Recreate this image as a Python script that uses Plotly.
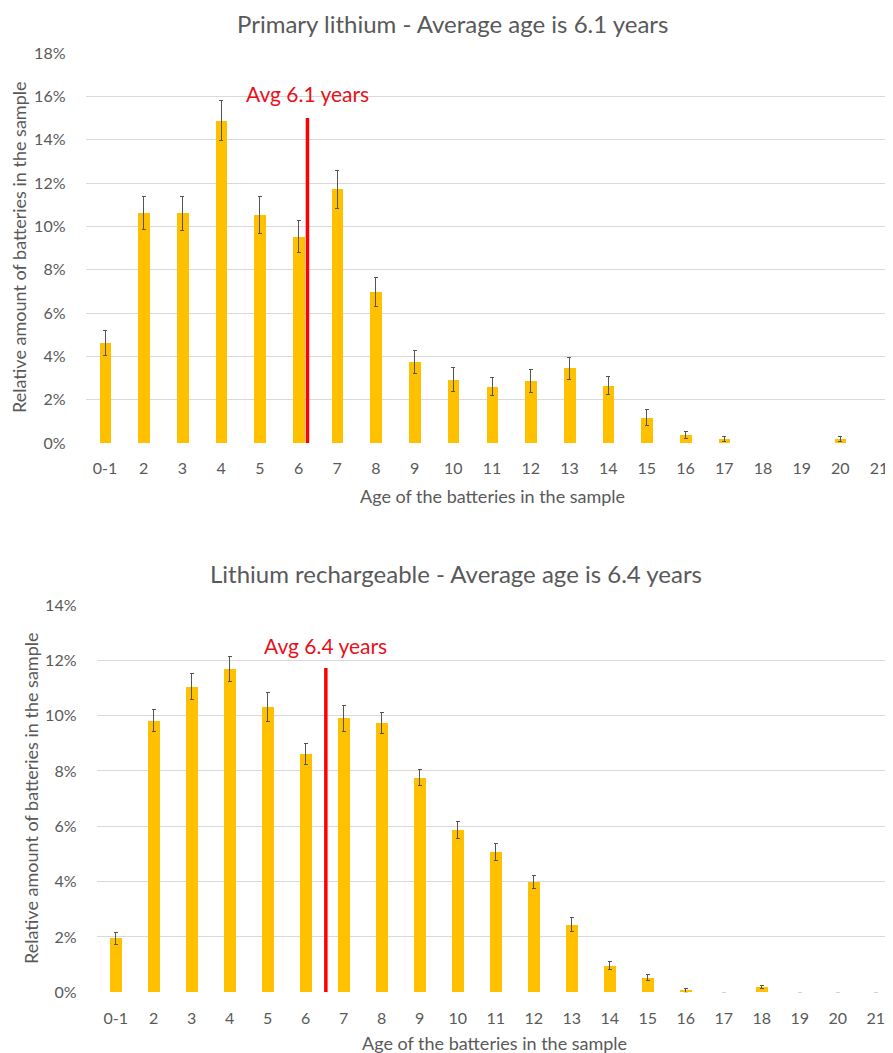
import plotly.graph_objects as go

# Categories (age of batteries)
ages = ['0-1'] + [str(i) for i in range(2, 22)]

# Primary lithium - relative amount (%) and error (+/- %)
primary_vals = [4.63, 10.6, 10.6, 14.87, 10.52, 9.51, 11.72, 6.97, 3.73, 2.93, 2.59,
                2.86, 3.44, 2.64, 1.17, 0.36, 0.18, 0, 0, 0.18, 0]
primary_err = [0.58, 0.76, 0.8, 0.92, 0.86, 0.74, 0.88, 0.67, 0.53, 0.54, 0.42,
               0.55, 0.5, 0.42, 0.36, 0.16, 0.12, 0, 0, 0.12, 0]

# Lithium rechargeable - relative amount (%) and error (+/- %)
recharge_vals = [1.95, 9.81, 11.05, 11.68, 10.31, 8.6, 9.9, 9.72, 7.75, 5.87, 5.06,
                 3.98, 2.44, 0.96, 0.53, 0.08, 0, 0.18, 0, 0, 0]
recharge_err = [0.21, 0.4, 0.47, 0.45, 0.52, 0.38, 0.47, 0.38, 0.29, 0.32, 0.31,
                0.24, 0.26, 0.15, 0.12, 0.07, 0, 0.06, 0, 0, 0]

# Average markers: position on the category axis (index units) and line height (%)
primary_avg = {'label': 'Avg 6.1 years', 'pos': 5.23, 'top': 15.0}
recharge_avg = {'label': 'Avg 6.4 years', 'pos': 5.53, 'top': 11.72}

titles = ['Primary lithium - Average age is 6.1 years',
          'Lithium rechargeable - Average age is 6.4 years']

# page body has an 8px margin, so the figure is made smaller and offset
OFF = 8
W, H = 893 - OFF, 1053 - OFF
FONT = 'Lato'
GREY = '#595959'
BAR = '#FFC000'
RED = '#FF0000'


def py(px_y):
    # screen pixel row -> paper fraction
    return 1 - (px_y - OFF) / H


def px_x(px):
    return (px - OFF) / W


fig = go.Figure()

fig.add_trace(go.Bar(
    x=ages, y=primary_vals, width=0.3, marker_color=BAR, marker_line_width=0,
    error_y=dict(type='data', array=primary_err, color='#555555', thickness=1, width=2),
    xaxis='x', yaxis='y', showlegend=False
))
fig.add_trace(go.Bar(
    x=ages, y=recharge_vals, width=0.3, marker_color=BAR, marker_line_width=0,
    error_y=dict(type='data', array=recharge_err, color='#555555', thickness=1, width=2),
    xaxis='x2', yaxis='y2', showlegend=False
))

axis_common = dict(showline=False, zeroline=False, automargin=False,
                   tickfont=dict(family=FONT, size=16, color=GREY))

fig.update_layout(
    width=W, height=H,
    margin=dict(l=0, r=0, t=0, b=0, pad=0),
    plot_bgcolor='white', paper_bgcolor='white',
    bargap=0,
    xaxis=dict(domain=[px_x(85.7), 1], range=[-0.5, 20.36], type='category',
               showgrid=False, ticks='outside', ticklen=11, tickcolor='rgba(0,0,0,0)',
               anchor='y', **axis_common),
    yaxis=dict(domain=[py(443), py(53)], range=[0, 18], dtick=2, ticksuffix='%',
               showgrid=True, gridcolor='#D9D9D9', gridwidth=1,
               ticks='outside', ticklen=16, tickcolor='rgba(0,0,0,0)',
               anchor='x', **axis_common),
    xaxis2=dict(domain=[px_x(96.7), 1], range=[-0.5, 20.455], type='category',
                showgrid=False, ticks='outside', ticklen=11, tickcolor='rgba(0,0,0,0)',
                anchor='y2', **axis_common),
    yaxis2=dict(domain=[py(992.3), py(605)], range=[0, 14], dtick=2, ticksuffix='%',
                showgrid=True, gridcolor='#D9D9D9', gridwidth=1,
                ticks='outside', ticklen=16, tickcolor='rgba(0,0,0,0)',
                anchor='x2', **axis_common),
)

# average lines
for avg, xr, yr in [(primary_avg, 'x', 'y'), (recharge_avg, 'x2', 'y2')]:
    fig.add_shape(type='line', xref=xr, yref=yr, x0=avg['pos'], x1=avg['pos'],
                  y0=0, y1=avg['top'], line=dict(color=RED, width=3.5))

annotations = [
    # chart titles
    dict(text=titles[0], x=px_x(452), y=py(24), font=dict(size=24, color=GREY)),
    dict(text=titles[1], x=px_x(456), y=py(573), font=dict(size=24, color=GREY)),
    # avg labels
    dict(text=primary_avg['label'], x=px_x(307), y=py(94), font=dict(size=21, color='#E8101A')),
    dict(text=recharge_avg['label'], x=px_x(325), y=py(645), font=dict(size=21, color='#E8101A')),
    # x-axis titles
    dict(text='Age of the batteries in the sample', x=px_x(492), y=py(496),
         font=dict(size=18, color=GREY)),
    dict(text='Age of the batteries in the sample', x=px_x(495), y=py(1043),
         font=dict(size=18, color=GREY)),
    # y-axis titles
    dict(text='Relative amount of batteries in the sample', x=px_x(19), y=py(248),
         textangle=-90, font=dict(size=18, color=GREY)),
    dict(text='Relative amount of batteries in the sample', x=px_x(31), y=py(799),
         textangle=-90, font=dict(size=18, color=GREY)),
]
for a in annotations:
    a.update(xref='paper', yref='paper', showarrow=False, xanchor='center',
             yanchor='middle', borderpad=0)
    a['font']['family'] = FONT
    fig.add_annotation(**a)

fig.write_html('out.html')
